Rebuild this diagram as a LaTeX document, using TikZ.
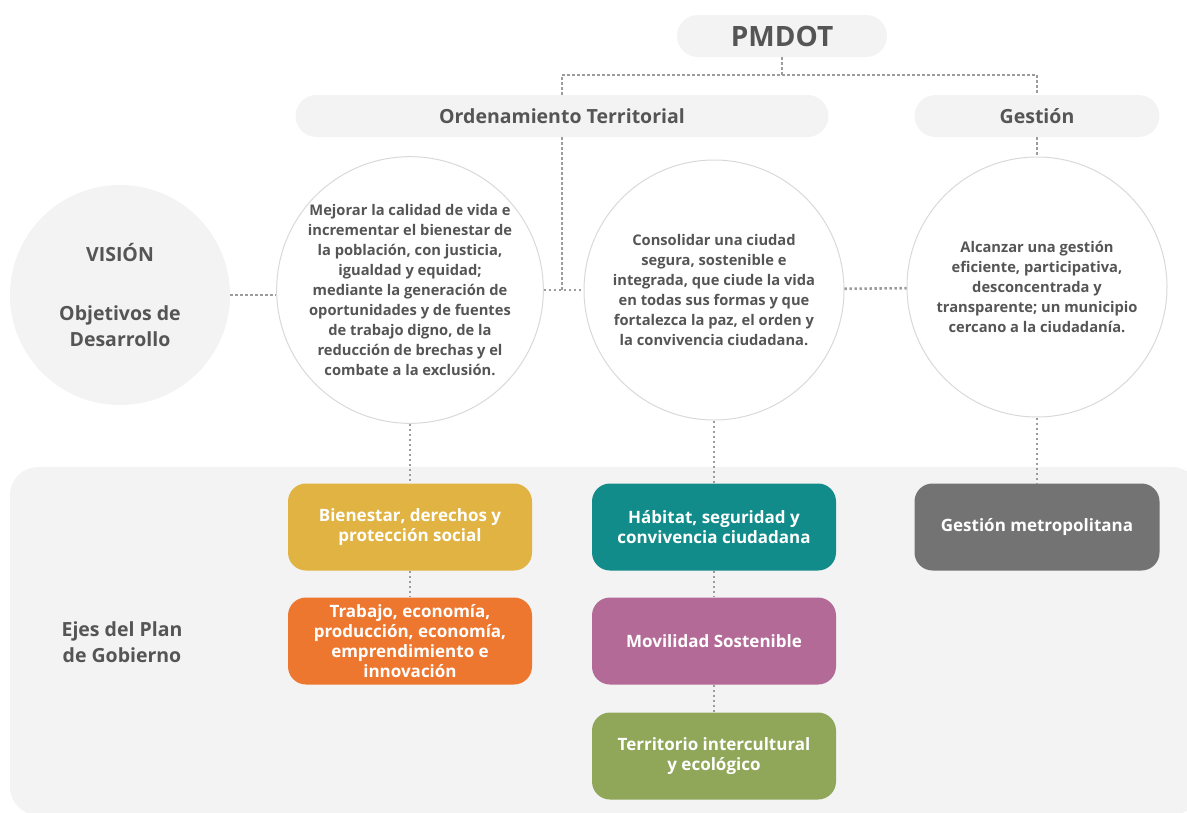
\documentclass[tikz,border=0pt]{standalone}
\usepackage{fontspec}
\setmainfont{Open Sans}
\usetikzlibrary{positioning}

\definecolor{panelgray}{HTML}{F3F3F3}
\definecolor{textgray}{HTML}{555555}
\definecolor{ringgray}{HTML}{D9D9D9}
\definecolor{dotgray}{HTML}{9C9C9C}
\definecolor{ejeyellow}{HTML}{E0B342}
\definecolor{ejeorange}{HTML}{EE772F}
\definecolor{ejeteal}{HTML}{128C8A}
\definecolor{ejemauve}{HTML}{B36A96}
\definecolor{ejegreen}{HTML}{90A75A}
\definecolor{ejegray}{HTML}{737373}

\tikzset{
    pill/.style={fill=panelgray, rounded corners=21pt, minimum height=42pt, text=textgray,
        font=\bfseries\fontsize{19.5}{22}\selectfont},
    objring/.style={circle, draw=ringgray, line width=1pt, fill=white, minimum size=260pt,
        inner sep=0pt, align=center, text=textgray, font=\bfseries\fontsize{14.7}{20}\selectfont},
    ejebox/.style={rounded corners=18pt, minimum width=244pt, minimum height=87pt, text=white,
        align=center, font=\bfseries\fontsize{17}{20}\selectfont},
    link/.style={draw=dotgray, line width=2.6pt, dash pattern=on 2.4pt off 2.6pt}
}

\begin{document}
\begin{tikzpicture}[x=1pt, y=-1pt]
        \useasboundingbox (0, 0) rectangle (1187, 812);
        \begin{scope}
            \clip (0, 0) rectangle (1187, 812);
            \fill[panelgray, rounded corners=28pt] (10, 467) rectangle (1200, 815);
        \end{scope}

        % top level
        \node[pill, minimum width=210pt, font=\bfseries\fontsize{28}{30}\selectfont] (pmdot) at (782, 36) {PMDOT};
        \node[pill, minimum width=533pt] (ot) at (562, 116) {Ordenamiento Territorial};
        \node[pill, minimum width=245pt] (gest) at (1037, 116) {Gestión};
        \coordinate (split) at (782, 75);
        \coordinate (otjoin) at (562, 290);

        % vision and objectives
        \node[circle, fill=panelgray, minimum size=220pt, align=center, text=textgray,
            font=\bfseries\fontsize{19.5}{26}\selectfont] (vision) at (120, 295)
            {VISIÓN\\[33pt]Objetivos de\\Desarrollo};
        \node[objring] (obj1) at (410, 290) {Mejorar la calidad de vida e\\incrementar el bienestar de\\la población, con justicia,\\igualdad y equidad;\\mediante la generación de\\oportunidades y de fuentes\\de trabajo digno, de la\\reducción de brechas y el\\combate a la exclusión.};
        \node[objring] (obj2) at (714, 290) {Consolidar una ciudad\\segura, sostenible e\\integrada, que ciude la vida\\en todas sus formas y que\\fortalezca la paz, el orden y\\la convivencia ciudadana.};
        \node[objring] (obj3) at (1037, 287) {Alcanzar una gestión\\eficiente, participativa,\\desconcentrada y\\transparente; un municipio\\cercano a la ciudadanía.};

        % ejes
        \node[text=textgray, align=center, font=\bfseries\fontsize{19.5}{26}\selectfont] (ejes) at (122, 642) {Ejes del Plan\\de Gobierno};
        \node[ejebox, fill=ejeyellow] (bien) at (410, 527) {Bienestar, derechos y\\protección social};
        \node[ejebox, fill=ejeorange] (trab) at (410, 641) {Trabajo, economía,\\producción, economía,\\emprendimiento e\\innovación};
        \node[ejebox, fill=ejeteal] (habi) at (714, 527) {Hábitat, seguridad y\\convivencia ciudadana};
        \node[ejebox, fill=ejemauve] (movi) at (714, 641) {Movilidad Sostenible};
        \node[ejebox, fill=ejegreen] (terr) at (714, 756) {Territorio intercultural\\y ecológico};
        \node[ejebox, fill=ejegray, minimum width=245pt] (gmet) at (1037, 527) {Gestión metropolitana};

        % connectors
        \draw[link] (pmdot) -- (split);
        \draw[link] (ot.north) |- (split) -| (gest.north);
        \draw[link] (ot) -- (otjoin);
        \draw[link] (obj1) -- (obj2);
        \draw[link] (obj2) -- (obj3);
        \draw[link] (gest) -- (obj3);
        \draw[link] (vision.east) -- (vision.east -| obj1.west);
        \draw[link] (obj1) -- (bien);
        \draw[link] (obj2) -- (habi);
        \draw[link] (obj3) -- (gmet);
        \draw[link] (bien) -- (trab);
        \draw[link] (habi) -- (movi);
        \draw[link] (movi) -- (terr);
    \end{tikzpicture}
\end{document}
